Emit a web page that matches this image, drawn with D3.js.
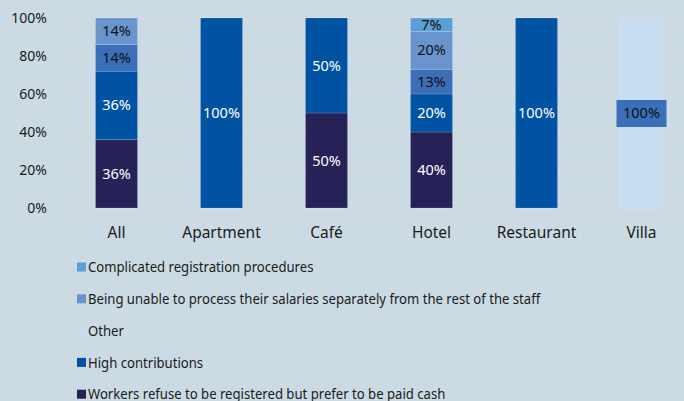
<!DOCTYPE html>
<html>
<head>
<meta charset="utf-8">
<script src="https://cdn.jsdelivr.net/npm/d3@7"></script>
<style>
  html, body { margin: 0; padding: 0; background: #ccdae3; }
  svg { display: block; font-family: "Noto Sans", "Open Sans", sans-serif; }
</style>
</head>
<body>
<svg id="chart" width="684" height="401"></svg>
<script>
// ---- data ----
const categories = ['All', 'Apartment', 'Café', 'Hotel', 'Restaurant', 'Villa'];

// stack order, bottom -> top
const seriesNames = [
  'Workers refuse to be registered but prefer to be paid cash',
  'High contributions',
  'Other',
  'Being unable to process their salaries separately from the rest of the staff',
  'Complicated registration procedures'
];
const workersCash   = [36, 0, 50, 40, 0, 0];
const highContrib   = [36, 100, 50, 20, 100, 0];
const other         = [14, 0, 0, 13, 0, 100];
const unableSalary  = [14, 0, 0, 20, 0, 0];
const complicated   = [0, 0, 0, 7, 0, 0];
const yTicks = [0, 20, 40, 60, 80, 100];

// legend order, top -> bottom
const legendOrder = [4, 3, 2, 1, 0];

// ---- styles ----
const colors = ['#262257', '#0052a2', '#c6ddf2', '#6994cd', '#5b9fd9'];
const otherBarFill = '#3b6fb8';   // "Other" segments drawn in mid blue in the source
const labelColors = ['#ffffff', '#ffffff', '#111111', '#111111', '#111111'];

const svg = d3.select('#chart');

const x = d3.scaleBand().domain(categories).range([64, 694]).paddingInner(0.6).paddingOuter(0.3);
const y = d3.scaleLinear().domain([0, 100]).range([208, 18]);

// gridlines
svg.append('g')
  .selectAll('line')
  .data(yTicks)
  .join('line')
  .attr('x1', 64).attr('x2', 684)
  .attr('y1', d => y(d)).attr('y2', d => y(d))
  .attr('stroke', '#d9dde2').attr('stroke-width', 1);

// y axis
const yAxis = svg.append('g')
  .attr('transform', 'translate(50,0)')
  .call(d3.axisLeft(y).tickValues(yTicks).tickSize(0).tickPadding(3).tickFormat(d => d + '%'));
yAxis.select('.domain').remove();
yAxis.selectAll('text').attr('font-size', 14).attr('fill', '#1a1a1a').attr('font-family', '"Noto Sans", sans-serif');

// x axis (labels slightly condensed like the source font)
const xAxis = svg.append('g')
  .attr('transform', 'translate(0,208)')
  .call(d3.axisBottom(x).tickSize(0).tickPadding(18));
xAxis.select('.domain').remove();
xAxis.selectAll('.tick text')
  .attr('font-size', 16.5)
  .attr('fill', '#1a1a1a')
  .attr('font-family', '"Noto Sans", sans-serif')
  .attr('transform', 'scale(0.94,1)');

// stack
const table = categories.map((c, i) => ({
  cat: c,
  s0: workersCash[i], s1: highContrib[i], s2: other[i], s3: unableSalary[i], s4: complicated[i]
}));
const stack = d3.stack().keys(['s0', 's1', 's2', 's3', 's4'])(table);

stack.forEach((layer, k) => {
  const g = svg.append('g');
  layer.forEach(seg => {
    const v = seg[1] - seg[0];
    if (!v) return;
    const cat = seg.data.cat;
    let fill = colors[k];
    if (k === 2 && cat !== 'Villa') fill = otherBarFill;
    g.append('rect')
      .attr('x', x(cat))
      .attr('width', x.bandwidth())
      .attr('y', y(seg[1]))
      .attr('height', y(seg[0]) - y(seg[1]))
      .attr('fill', fill)
      .attr('stroke', 'rgba(255,255,255,0.25)')
      .attr('stroke-width', 0.6);
  });
});

// labels
stack.forEach((layer, k) => {
  layer.forEach(seg => {
    const v = seg[1] - seg[0];
    if (!v) return;
    const cat = seg.data.cat;
    const cx = x(cat) + x.bandwidth() / 2;
    const cy = y((seg[0] + seg[1]) / 2);
    if (k === 2 && cat === 'Villa') {
      svg.append('rect')
        .attr('x', cx - 25).attr('y', cy - 13)
        .attr('width', 50).attr('height', 27)
        .attr('fill', otherBarFill);
    }
    svg.append('text')
      .attr('x', cx)
      .attr('y', cy)
      .attr('dy', '0.35em')
      .attr('text-anchor', 'middle')
      .attr('font-size', 14.5)
      .attr('fill', labelColors[k])
      .text(v + '%');
  });
});

// legend (condensed text like the source font)
const legend = svg.append('g');
legendOrder.forEach((k, i) => {
  const ly = 267 + i * 31.8;
  legend.append('rect')
    .attr('x', 77).attr('y', ly - 4.5)
    .attr('width', 9).attr('height', 9)
    .attr('fill', colors[k]);
  legend.append('text')
    .attr('transform', `translate(88,${ly}) scale(0.875,1)`)
    .attr('dy', '0.35em')
    .attr('font-size', 15)
    .attr('fill', '#1a1a1a')
    .text(seriesNames[k]);
});
</script>
</body>
</html>
